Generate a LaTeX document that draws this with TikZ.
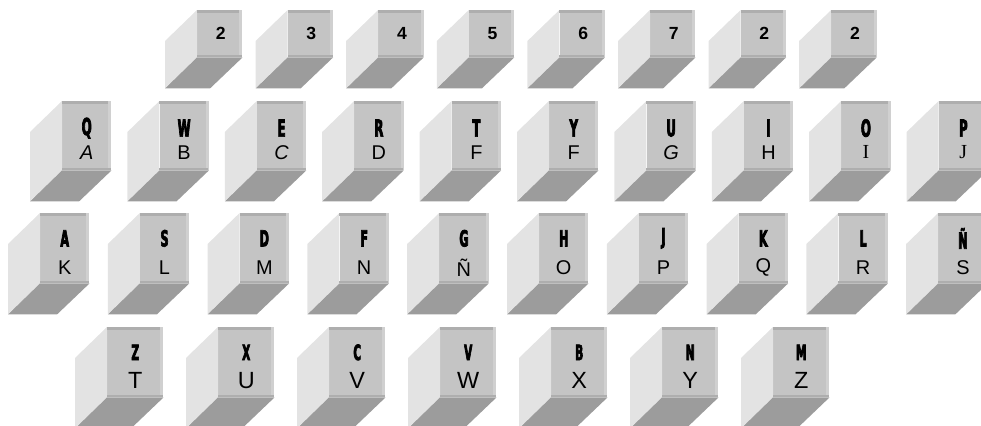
\documentclass[tikz,border=0pt]{standalone}
\usepackage{fontspec}
\setmainfont{Liberation Sans}
\newfontfamily\capfont{DejaVu Sans}[FakeStretch=0.5,FakeBold=3]
\newfontfamily\serifletter{Liberation Serif}
\definecolor{capface}{HTML}{C4C4C4}
\definecolor{caprim}{HTML}{AEAEAE}
\definecolor{capedge}{HTML}{D0D0D0}
\definecolor{capleft}{HTML}{E3E3E3}
\definecolor{capbottom}{HTML}{9C9C9C}
\usetikzlibrary{calc,positioning}

\tikzset{
  keyface/.style={fill=capface, inner sep=0pt, anchor=north west},
  keyleft/.style={fill=capleft},
  keybottom/.style={fill=capbottom},
  numlabel/.style={font=\bfseries\fontsize{15}{15}\selectfont},
  uplabel/.style={font=\capfont\bfseries\fontsize{#1}{#1}\selectfont},
  lolabel/.style={font=\fontsize{#1}{#1}\selectfont},
}

% one key: name, face left, face top, width, height (in px)
\newcommand{\keyblock}[5]{%
  \node[keyface, minimum width=#4*0.03cm, minimum height=#5*0.03cm] (#1) at (#2,#3) {};
  \fill[keyleft] (#1.north west) -- ++(-32,31) -- ++(0,#5) -- (#1.south west) -- cycle;
  \fill[keybottom] (#1.south west) -- ++(-32,31) -- ++(#4,0) -- (#1.south east) -- cycle;
  \fill[caprim] (#1.north west) rectangle ++(#4,3);
  \fill[capedge] (#1.north east) rectangle ++(-3,#5);
  \fill[caprim] (#1.south west) rectangle ++(#4,-2);
}

\begin{document}
\begin{tikzpicture}[x=0.03cm,y=-0.03cm]
    \clip (0,0) rectangle (981,426);
    % number row
    \foreach \lbl [count=\i from 0] in {2,3,4,5,6,7,2,2} {
      \keyblock{n\i}{197+90.6*\i}{10}{45}{47}
      \node[numlabel] (n\i-t) at ($(n\i.center)+(1,0)$) {\lbl};
    }
    % upper letter row
    \foreach \up/\lo [count=\i from 0] in {Q/\itshape A,W/B,E/\itshape C,R/D,T/F,Y/F,U/\itshape G,I/H,O/\serifletter I,P/\serifletter J} {
      \keyblock{q\i}{62+97.4*\i}{101}{49}{69}
      \node[uplabel=20] (q\i-u) at ($(q\i.north)!0.39!(q\i.south)$) {\up};
      \node[lolabel=17] (q\i-l) at ($(q\i.north)!0.74!(q\i.south)$) {\lo};
    }
    % middle letter row
    \foreach \up/\lo [count=\i from 0] in {A/K,S/L,D/M,F/N,G/Ñ,H/O,J/P,K/Q,L/R,Ñ/S} {
      \keyblock{a\i}{40+99.8*\i}{213}{49}{70}
      \node[uplabel=19] (a\i-u) at ($(a\i.north)!0.36!(a\i.south)$) {\up};
      \node[lolabel=17] (a\i-l) at ($(a\i.north)!0.77!(a\i.south)$) {\lo};
    }
    % lower letter row
    \foreach \up/\lo [count=\i from 0] in {Z/T,X/U,C/V,V/W,B/X,N/Y,M/Z} {
      \keyblock{z\i}{107+111*\i}{327}{56}{70}
      \node[uplabel=18] (z\i-u) at ($(z\i.north)!0.36!(z\i.south)$) {\up};
      \node[lolabel=20] (z\i-l) at ($(z\i.north)!0.76!(z\i.south)$) {\lo};
    }
\end{tikzpicture}
\end{document}
